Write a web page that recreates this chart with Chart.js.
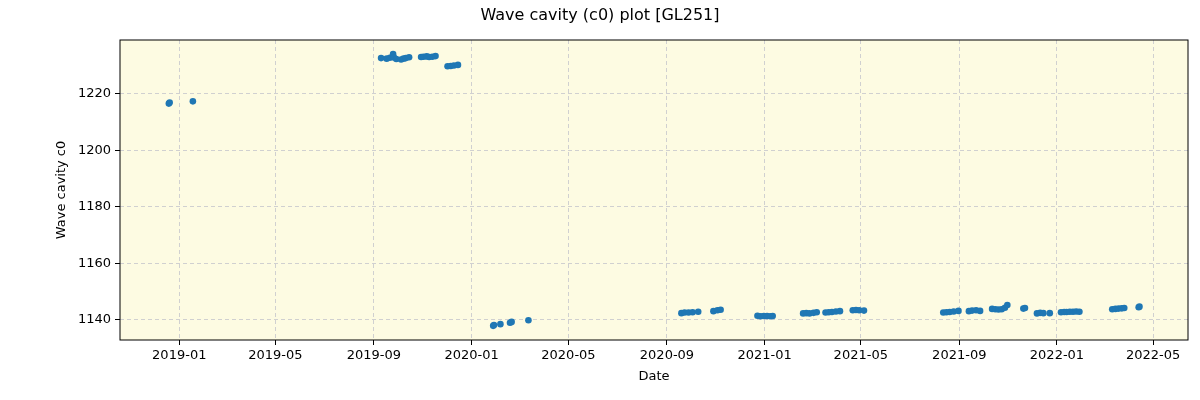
<!DOCTYPE html>
<html>
<head>
<meta charset="utf-8">
<script src="https://cdn.jsdelivr.net/npm/chart.js@4"></script>
<style>
  body { margin: 0; background: #fff; }
</style>
</head>
<body>
<canvas id="chart" width="1200" height="400"></canvas>
<script>
const dates = [
  "2018-12-19", "2018-12-20", "2019-01-18",
  "2019-09-10", "2019-09-17", "2019-09-21", "2019-09-25", "2019-09-26", "2019-09-29",
  "2019-10-05", "2019-10-08", "2019-10-11", "2019-10-15",
  "2019-10-30", "2019-11-02", "2019-11-06", "2019-11-09", "2019-11-13", "2019-11-17",
  "2019-12-02", "2019-12-06", "2019-12-10", "2019-12-15",
  "2020-01-28", "2020-01-29", "2020-02-06", "2020-02-18", "2020-02-20", "2020-03-12",
  "2020-09-19", "2020-09-23", "2020-09-28", "2020-10-03", "2020-10-10",
  "2020-10-29", "2020-11-03", "2020-11-07",
  "2020-12-23", "2020-12-27", "2020-12-31", "2021-01-04", "2021-01-08", "2021-01-11",
  "2021-02-18", "2021-02-22", "2021-02-26", "2021-03-03", "2021-03-07",
  "2021-03-18", "2021-03-22", "2021-03-26", "2021-03-31", "2021-04-05",
  "2021-04-21", "2021-04-25", "2021-04-29", "2021-05-05",
  "2021-08-12", "2021-08-16", "2021-08-20", "2021-08-25", "2021-08-31",
  "2021-09-13", "2021-09-17", "2021-09-22", "2021-09-27",
  "2021-10-12", "2021-10-16", "2021-10-20", "2021-10-24", "2021-10-28", "2021-10-31",
  "2021-11-20", "2021-11-22",
  "2021-12-07", "2021-12-11", "2021-12-15", "2021-12-23",
  "2022-01-06", "2022-01-10", "2022-01-13", "2022-01-17", "2022-01-21", "2022-01-25", "2022-01-29",
  "2022-03-11", "2022-03-15", "2022-03-19", "2022-03-23", "2022-03-26",
  "2022-04-13", "2022-04-14"
];
const c0 = [
  1216.5, 1216.9, 1217.3,
  1232.6, 1232.4, 1232.7, 1234.0, 1232.8, 1232.3,
  1232.1, 1232.4, 1232.6, 1232.9,
  1233.0, 1233.1, 1233.2, 1233.0, 1233.1, 1233.3,
  1229.7, 1229.8, 1230.0, 1230.2,
  1137.9, 1138.2, 1138.5, 1139.0, 1139.3, 1139.9,
  1142.4, 1142.6, 1142.6, 1142.7, 1142.9,
  1143.1, 1143.4, 1143.6,
  1141.5, 1141.3, 1141.4, 1141.4, 1141.3, 1141.4,
  1142.3, 1142.4, 1142.3, 1142.5, 1142.7,
  1142.6, 1142.7, 1142.8, 1143.0, 1143.1,
  1143.4, 1143.5, 1143.4, 1143.3,
  1142.6, 1142.7, 1142.8, 1143.0, 1143.2,
  1143.1, 1143.3, 1143.4, 1143.2,
  1143.9, 1143.8, 1143.7, 1143.8, 1144.3, 1145.3,
  1144.0, 1144.2,
  1142.3, 1142.5, 1142.4, 1142.4,
  1142.7, 1142.8, 1142.8, 1142.9, 1142.9, 1143.0, 1142.9,
  1143.8, 1143.9, 1144.0, 1144.1, 1144.2,
  1144.5, 1144.7
];
const xTickLabels = ["2019-01", "2019-05", "2019-09", "2020-01", "2020-05", "2020-09",
                     "2021-01", "2021-05", "2021-09", "2022-01", "2022-05"];
const yTickLabels = [1140, 1160, 1180, 1200, 1220];

const dayNum = s => Date.UTC(+s.slice(0, 4), +s.slice(5, 7) - 1, +(s.slice(8, 10) || 1)) / 86400000;
const dayLabel = v => {
  const d = new Date(v * 86400000);
  return d.getUTCFullYear() + "-" + String(d.getUTCMonth() + 1).padStart(2, "0");
};
const base = dayNum("2019-01-01");
const font = "'DejaVu Sans', sans-serif";

const frame = {
  id: "frame",
  beforeDraw(chart) {
    const { ctx, chartArea: a } = chart;
    ctx.save();
    ctx.fillStyle = "#fdfbe2";
    ctx.fillRect(a.left, a.top, a.right - a.left, a.bottom - a.top);
    ctx.restore();
  },
  afterDraw(chart) {
    const { ctx, chartArea: a } = chart;
    ctx.save();
    ctx.strokeStyle = "#000";
    ctx.lineWidth = 1;
    ctx.strokeRect(a.left, a.top, a.right - a.left, a.bottom - a.top);
    ctx.fillStyle = "#000";
    ctx.font = "16px " + font;
    ctx.textAlign = "center";
    ctx.textBaseline = "middle";
    ctx.fillText("Wave cavity (c0) plot [GL251]", 600, 16);
    ctx.restore();
  }
};

new Chart(document.getElementById("chart"), {
  type: "scatter",
  data: {
    datasets: [{
      data: dates.map((d, i) => ({ x: dayNum(d), y: c0[i] })),
      backgroundColor: "#1f77b4",
      borderColor: "#1f77b4",
      pointRadius: 3.3,
      borderWidth: 0
    }]
  },
  options: {
    responsive: false,
    animation: false,
    devicePixelRatio: 1,
    layout: { padding: { top: 40, right: 12, left: 54, bottom: 0 } },
    plugins: { legend: { display: false }, tooltip: { enabled: false } },
    scales: {
      x: {
        type: "linear",
        min: base - 74,
        max: base + 1259.6,
        afterBuildTicks: s => { s.ticks = xTickLabels.map(l => ({ value: dayNum(l + "-01") })); },
        afterFit: s => { s.height = 60; },
        ticks: { callback: v => dayLabel(v), autoSkip: false, color: "#000", font: { family: font, size: 13 }, padding: 3, maxRotation: 0 },
        grid: { color: "#d0d0d0", tickColor: "#000", tickLength: 5, tickBorderDash: [] },
        border: { display: false, dash: [4, 3] },
        title: { display: true, text: "Date", color: "#000", font: { family: font, size: 13 }, padding: { top: 0, bottom: 16 } }
      },
      y: {
        min: 1132.9,
        max: 1239.0,
        afterBuildTicks: s => { s.ticks = yTickLabels.map(v => ({ value: v })); },
        afterFit: s => { s.width = 66; },
        ticks: { callback: v => String(v), autoSkip: false, color: "#000", font: { family: font, size: 13 }, padding: 4 },
        grid: { color: "#d0d0d0", tickColor: "#000", tickLength: 5, tickBorderDash: [] },
        border: { display: false, dash: [4, 3] },
        title: { display: true, text: "Wave cavity c0", color: "#000", font: { family: font, size: 13 }, padding: { top: 0, bottom: 0 } }
      }
    }
  },
  plugins: [frame]
});
</script>
</body>
</html>
